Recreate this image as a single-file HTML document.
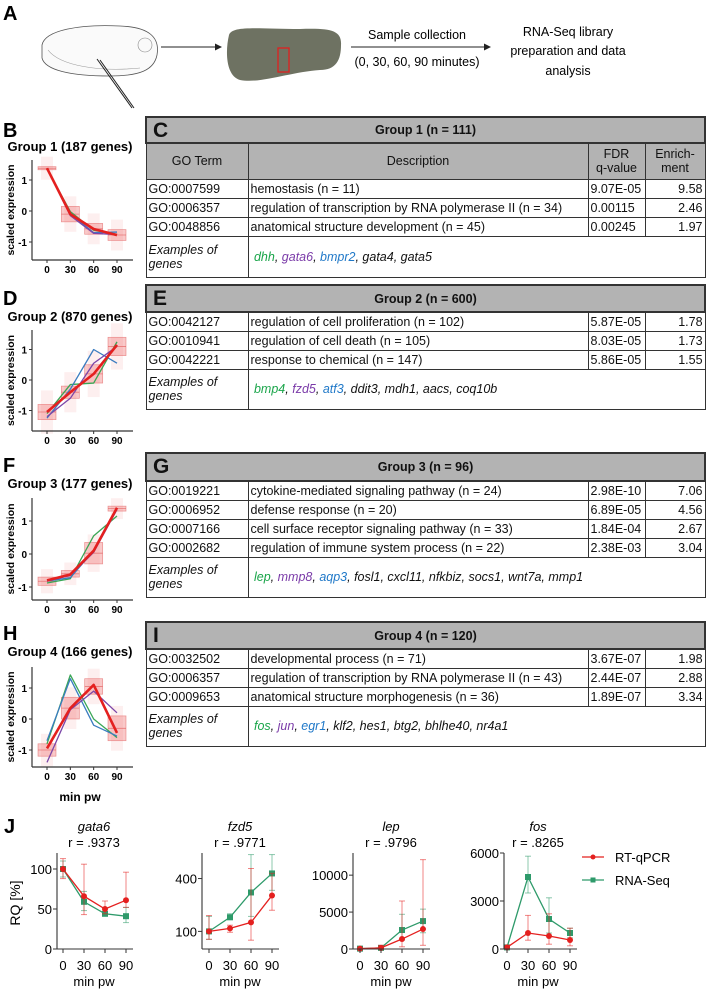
<!DOCTYPE html>
<html><head><meta charset="utf-8">
<style>
body{margin:0;background:#fff;font-family:"Liberation Sans",sans-serif;}
#root{position:relative;width:709px;height:990px;overflow:hidden;}
.tbl{position:absolute;left:145px;width:559px;border-collapse:collapse;font-size:12.5px;color:#111;table-layout:fixed;}
.tbl td{border:1px solid #333;padding:0 2px;line-height:14px;white-space:nowrap;overflow:hidden;}
.tbl tr.h td{background:#b3b3b3;font-weight:bold;text-align:center;position:relative;border:2px solid #333;}
.tbl tr.h td span.L{position:absolute;left:6px;top:1px;font-size:21px;line-height:24px;}
.tbl tr.ch td{background:#b3b3b3;text-align:center;}
.tbl td.r{text-align:right;}
.tbl .ex{font-style:italic;}
.g{color:#1aa54a}.p{color:#7a3aa8}.b{color:#1f78c8}
svg{position:absolute;left:0;top:0;}
</style></head><body>
<div id="root">
<svg id="fig" width="709" height="990" font-family="Liberation Sans, sans-serif">
 <g>
  <text x="3" y="20" font-size="20" font-weight="bold">A</text>
  <path d="M42 45 C45 30 80 24 120 26 C150 27 160 38 157 55 C154 70 140 76 110 76 C70 76 45 70 42 58 Z" fill="#fafafa" stroke="#555" stroke-width="0.8"/>
  <path d="M48 50 C60 66 100 72 140 68" fill="none" stroke="#999" stroke-width="0.6"/>
  <circle cx="145" cy="45" r="7" fill="none" stroke="#888" stroke-width="0.6"/>
  <line x1="97" y1="59" x2="132" y2="108" stroke="#222" stroke-width="1"/>
  <line x1="100" y1="60" x2="134" y2="108" stroke="#222" stroke-width="1"/>
  <line x1="161" y1="47" x2="220" y2="47" stroke="#222" stroke-width="1"/>
  <polygon points="222,47 215,43.5 215,50.5" fill="#222"/>
  <path d="M229 35 C232 25 260 29 300 29 C330 28 342 30 341 45 C341 60 336 70 320 70 C290 72 260 84 240 80 C226 76 225 52 229 35 Z" fill="#6e7262"/>
  <rect x="278" y="48" width="11" height="24" fill="none" stroke="#e02020" stroke-width="1.3"/>
  <line x1="351" y1="47" x2="488" y2="47" stroke="#222" stroke-width="1"/>
  <polygon points="491,47 484,43.5 484,50.5" fill="#222"/>
  <text x="417" y="39" font-size="12.5" text-anchor="middle">Sample collection</text>
  <text x="417" y="66" font-size="12.5" text-anchor="middle">(0, 30, 60, 90 minutes)</text>
  <text x="568" y="36" font-size="12.5" text-anchor="middle">RNA-Seq library</text>
  <text x="568" y="55" font-size="12.5" text-anchor="middle">preparation and data</text>
  <text x="568" y="75" font-size="12.5" text-anchor="middle">analysis</text>
 </g>
</svg>

<table class="tbl" style="top:116px">
<colgroup><col style="width:102px"><col style="width:340px"><col style="width:57px"><col style="width:60px"></colgroup>
<tr class="h" style="height:26px"><td colspan="4"><span class="L">C</span>Group 1 (n = 111)</td></tr>
<tr class="ch" style="height:36px"><td>GO Term</td><td>Description</td><td>FDR<br>q-value</td><td>Enrich-<br>ment</td></tr>
<tr style="height:19px"><td>GO:0007599</td><td>hemostasis (n = 11)</td><td>9.07E-05</td><td class="r">9.58</td></tr>
<tr style="height:19px"><td>GO:0006357</td><td>regulation of transcription by RNA polymerase II (n = 34)</td><td>0.00115</td><td class="r">2.46</td></tr>
<tr style="height:19px"><td>GO:0048856</td><td>anatomical structure development (n = 45)</td><td>0.00245</td><td class="r">1.97</td></tr>
<tr style="height:41px"><td class="ex">Examples of<br>genes</td><td colspan="3" class="ex">&nbsp;<span class="g">dhh</span>, <span class="p">gata6</span>, <span class="b">bmpr2</span>, gata4, gata5</td></tr>
</table>

<table class="tbl" style="top:284px">
<colgroup><col style="width:102px"><col style="width:340px"><col style="width:57px"><col style="width:60px"></colgroup>
<tr class="h" style="height:27px"><td colspan="4"><span class="L">E</span>Group 2 (n = 600)</td></tr>
<tr style="height:19px"><td>GO:0042127</td><td>regulation of cell proliferation (n = 102)</td><td>5.87E-05</td><td class="r">1.78</td></tr>
<tr style="height:19px"><td>GO:0010941</td><td>regulation of cell death (n = 105)</td><td>8.03E-05</td><td class="r">1.73</td></tr>
<tr style="height:19px"><td>GO:0042221</td><td>response to chemical (n = 147)</td><td>5.86E-05</td><td class="r">1.55</td></tr>
<tr style="height:40px"><td class="ex">Examples of<br>genes</td><td colspan="3" class="ex">&nbsp;<span class="g">bmp4</span>, <span class="p">fzd5</span>, <span class="b">atf3</span>, ddit3, mdh1, aacs, coq10b</td></tr>
</table>

<table class="tbl" style="top:452px">
<colgroup><col style="width:102px"><col style="width:340px"><col style="width:57px"><col style="width:60px"></colgroup>
<tr class="h" style="height:28px"><td colspan="4"><span class="L">G</span>Group 3 (n = 96)</td></tr>
<tr style="height:19px"><td>GO:0019221</td><td>cytokine-mediated signaling pathway (n = 24)</td><td>2.98E-10</td><td class="r">7.06</td></tr>
<tr style="height:19px"><td>GO:0006952</td><td>defense response (n = 20)</td><td>6.89E-05</td><td class="r">4.56</td></tr>
<tr style="height:19px"><td>GO:0007166</td><td>cell surface receptor signaling pathway (n = 33)</td><td>1.84E-04</td><td class="r">2.67</td></tr>
<tr style="height:19px"><td>GO:0002682</td><td>regulation of immune system process (n = 22)</td><td>2.38E-03</td><td class="r">3.04</td></tr>
<tr style="height:40px"><td class="ex">Examples of<br>genes</td><td colspan="3" class="ex">&nbsp;<span class="g">lep</span>, <span class="p">mmp8</span>, <span class="b">aqp3</span>, fosl1, cxcl11, nfkbiz, socs1, wnt7a, mmp1</td></tr>
</table>

<table class="tbl" style="top:621px">
<colgroup><col style="width:102px"><col style="width:340px"><col style="width:57px"><col style="width:60px"></colgroup>
<tr class="h" style="height:27px"><td colspan="4"><span class="L">I</span>Group 4 (n = 120)</td></tr>
<tr style="height:19px"><td>GO:0032502</td><td>developmental process (n = 71)</td><td>3.67E-07</td><td class="r">1.98</td></tr>
<tr style="height:19px"><td>GO:0006357</td><td>regulation of transcription by RNA polymerase II (n = 43)</td><td>2.44E-07</td><td class="r">2.88</td></tr>
<tr style="height:19px"><td>GO:0009653</td><td>anatomical structure morphogenesis (n = 36)</td><td>1.89E-07</td><td class="r">3.34</td></tr>
<tr style="height:40px"><td class="ex">Examples of<br>genes</td><td colspan="3" class="ex">&nbsp;<span class="g">fos</span>, <span class="p">jun</span>, <span class="b">egr1</span>, klf2, hes1, btg2, bhlhe40, nr4a1</td></tr>
</table>
</div>

<script>
// ---- group cluster plots (B, D, F, H) ----
const timepoints = [0, 30, 60, 90];
const g1Red = [1.38, -0.1, -0.58, -0.78];
const g1Green = [1.36, -0.02, -0.62, -0.75];
const g1Blue = [1.35, -0.08, -0.7, -0.68];
const g1Purple = [1.37, -0.15, -0.72, -0.76];
const g1BoxLo = [1.33, -0.35, -0.75, -0.95];
const g1BoxHi = [1.43, 0.15, -0.4, -0.6];
const g2Red = [-1.05, -0.4, 0.2, 1.15];
const g2Green = [-1.1, -0.15, -0.1, 1.25];
const g2Blue = [-1.25, -0.3, 1.0, 0.55];
const g2Purple = [-1.2, -0.6, 0.55, 1.1];
const g2BoxLo = [-1.3, -0.6, -0.1, 0.8];
const g2BoxHi = [-0.8, -0.2, 0.5, 1.4];
const g3Red = [-0.8, -0.62, 0.1, 1.4];
const g3Green = [-0.88, -0.75, 0.55, 1.15];
const g3Blue = [-0.82, -0.72, 0.1, 1.35];
const g3Purple = [-0.82, -0.65, 0.05, 1.35];
const g3BoxLo = [-0.95, -0.7, -0.3, 1.3];
const g3BoxHi = [-0.7, -0.5, 0.35, 1.45];
const g4Red = [-0.95, 0.35, 1.1, -0.45];
const g4Green = [-0.8, 1.42, 0.0, -0.6];
const g4Blue = [-0.7, 1.3, -0.2, -0.55];
const g4Purple = [-1.4, 0.3, 0.9, 0.2];
const g4BoxLo = [-1.2, 0.0, 0.8, -0.7];
const g4BoxHi = [-0.8, 0.7, 1.3, 0.1];
const yTicksGroup = [-1, 0, 1];
const xTickLabels = ['0', '30', '60', '90'];

// ---- panel J ----
const jTime = [0, 30, 60, 90];
const gata6Q = [100, 66, 50, 61], gata6QLo = [88, 43, 44, 52], gata6QHi = [113, 106, 60, 96];
const gata6S = [100, 59, 44, 41], gata6SLo = [90, 48, 42, 33], gata6SHi = [110, 72, 46, 52];
const fzd5Q = [100, 117, 151, 304], fzd5QLo = [55, 95, 50, 220], fzd5QHi = [190, 135, 457, 430];
const fzd5S = [100, 180, 321, 429], fzd5SLo = [55, 167, 185, 333], fzd5SHi = [185, 200, 536, 536];
const lepQ = [50, 150, 1350, 2700], lepQLo = [0, 0, 300, 500], lepQHi = [100, 500, 6500, 12100];
const lepS = [50, 150, 2570, 3780], lepSLo = [0, 0, 1200, 2200], lepSHi = [100, 300, 4700, 5400];
const fosQ = [100, 1000, 810, 560], fosQLo = [50, 550, 300, 200], fosQHi = [150, 2100, 2200, 1300];
const fosS = [100, 4500, 1875, 1000], fosSLo = [50, 3500, 1000, 700], fosSHi = [150, 5800, 3200, 1300];
const gata6Ticks = [0, 50, 100], fzd5Ticks = [100, 400], lepTicks = [0, 5000, 10000], fosTicks = [0, 3000, 6000];

const NS = 'http://www.w3.org/2000/svg';
const svg = document.getElementById('fig');
function el(tag, attrs, parent) {
  const e = document.createElementNS(NS, tag);
  for (const k in attrs) e.setAttribute(k, attrs[k]);
  (parent || svg).appendChild(e);
  return e;
}
function txt(s, attrs, parent) { const t = el('text', attrs, parent); t.textContent = s; return t; }

function groupPlot(cfg) {
  const g = el('g', {});
  
  
  const L = txt(cfg.letter, {x: 3, y: cfg.letterY, 'font-size': 20, 'font-weight': 'bold'}, g);
  
  
  const T = txt(cfg.title, {x: 70, y: cfg.titleY, 'font-size': 13, 'font-weight': 'bold', 'text-anchor': 'middle'}, g);
  
  
  const xs = t => 47 + (t / 90) * 70;
  const ys = v => cfg.y0 - v * cfg.unit;
  timepoints.forEach((t, i) => {
    const sc = el('rect', {x: xs(t) - 6, y: ys(cfg.boxHi[i]) - cfg.spread, width: 12, height: ys(cfg.boxLo[i]) - ys(cfg.boxHi[i]) + 2 * cfg.spread, fill: 'rgba(240,120,120,0.12)'}, g);
    
    
    const b = el('rect', {x: xs(t) - 9, y: ys(cfg.boxHi[i]), width: 18, height: Math.max(2, ys(cfg.boxLo[i]) - ys(cfg.boxHi[i])), fill: 'rgba(240,120,120,0.4)', stroke: 'rgba(225,90,90,0.6)', 'stroke-width': 0.7}, g);
    
    
    const m = (cfg.boxLo[i] + cfg.boxHi[i]) / 2;
    el('line', {x1: xs(t) - 9, x2: xs(t) + 9, y1: ys(m), y2: ys(m), stroke: 'rgba(225,90,90,0.7)', 'stroke-width': 0.8}, g);
  });
  const series = [[cfg.green, '#3aa655', 1.3], [cfg.blue, '#3a7cc0', 1.3], [cfg.purple, '#7b46a8', 1.3], [cfg.red, '#e4201f', 2.6]];
  series.forEach(([vals, col, w]) => {
    const pl = el('polyline', {points: timepoints.map((t, i) => xs(t) + ',' + ys(vals[i])).join(' '), fill: 'none', stroke: col, 'stroke-width': w, 'stroke-linejoin': 'round'}, g);
    
    
  });
  el('line', {x1: 32, x2: 32, y1: cfg.top, y2: cfg.bottom, stroke: '#333', 'stroke-width': 1.2}, g);
  el('line', {x1: 32, x2: 133, y1: cfg.bottom, y2: cfg.bottom, stroke: '#333', 'stroke-width': 1.2}, g);
  yTicksGroup.forEach(v => {
    el('line', {x1: 29, x2: 32, y1: ys(v), y2: ys(v), stroke: '#333'}, g);
    const tl = txt(String(v), {x: 27, y: ys(v) + 4, 'font-size': 10, 'font-weight': 'bold', 'text-anchor': 'end'}, g);
    
    
  });
  timepoints.forEach((t, i) => {
    el('line', {x1: xs(t), x2: xs(t), y1: cfg.bottom, y2: cfg.bottom + 3, stroke: '#333'}, g);
    const tl = txt(xTickLabels[i], {x: xs(t), y: cfg.bottom + 13, 'font-size': 10, 'font-weight': 'bold', 'text-anchor': 'middle'}, g);
    
    
  });
  const cy = (cfg.top + cfg.bottom) / 2;
  const yl = txt('scaled expression', {x: 14, y: cy, 'font-size': 10.5, 'font-weight': 'bold', 'text-anchor': 'middle', transform: 'rotate(-90 14 ' + cy + ')'}, g);
  
  
}
groupPlot({name: 'panel-b', letter: 'B', letterY: 137, title: 'Group 1 (187 genes)', titleY: 151, top: 160, bottom: 260, y0: 211, unit: 31, spread: 10, red: g1Red, green: g1Green, blue: g1Blue, purple: g1Purple, boxLo: g1BoxLo, boxHi: g1BoxHi});
groupPlot({name: 'panel-d', letter: 'D', letterY: 305, title: 'Group 2 (870 genes)', titleY: 321, top: 330, bottom: 431, y0: 380, unit: 30.5, spread: 14, red: g2Red, green: g2Green, blue: g2Blue, purple: g2Purple, boxLo: g2BoxLo, boxHi: g2BoxHi});
groupPlot({name: 'panel-f', letter: 'F', letterY: 472, title: 'Group 3 (177 genes)', titleY: 488, top: 498, bottom: 600, y0: 554, unit: 33, spread: 8, red: g3Red, green: g3Green, blue: g3Blue, purple: g3Purple, boxLo: g3BoxLo, boxHi: g3BoxHi});
groupPlot({name: 'panel-h', letter: 'H', letterY: 640, title: 'Group 4 (166 genes)', titleY: 656, top: 667, bottom: 767, y0: 719, unit: 31, spread: 10, red: g4Red, green: g4Green, blue: g4Blue, purple: g4Purple, boxLo: g4BoxLo, boxHi: g4BoxHi});
const mp = txt('min pw', {x: 80, y: 801, 'font-size': 12, 'font-weight': 'bold', 'text-anchor': 'middle'});



const jl = txt('J', {x: 4, y: 833, 'font-size': 20, 'font-weight': 'bold'});


function jPlot(cfg) {
  const g = el('g', {});
  
  
  const y0 = 949, top = 853;
  const ys = v => y0 - (v / cfg.max) * (y0 - top);
  const xs = t => cfg.x0 + (t / 90) * 63;
  const tt = txt(cfg.gene, {x: cfg.x0 + 31, y: 831, 'font-size': 13, 'font-style': 'italic', 'text-anchor': 'middle'}, g);
  
  
  const rr = txt(cfg.r, {x: cfg.x0 + 31, y: 847, 'font-size': 13, 'text-anchor': 'middle'}, g);
  
  
  const sets = [[cfg.s, cfg.sLo, cfg.sHi, '#2e9a6a', 'rna-seq'], [cfg.q, cfg.qLo, cfg.qHi, '#e4201f', 'rt-qpcr']];
  sets.forEach(([v, lo, hi, col, nm]) => {
    jTime.forEach((t, i) => {
      const eb = el('line', {x1: xs(t), x2: xs(t), y1: ys(hi[i]), y2: ys(lo[i]), stroke: col, 'stroke-opacity': 0.55, 'stroke-width': 1}, g);
      
      
      el('line', {x1: xs(t) - 3, x2: xs(t) + 3, y1: ys(hi[i]), y2: ys(hi[i]), stroke: col, 'stroke-opacity': 0.55}, g);
      el('line', {x1: xs(t) - 3, x2: xs(t) + 3, y1: ys(lo[i]), y2: ys(lo[i]), stroke: col, 'stroke-opacity': 0.55}, g);
    });
    const pl = el('polyline', {points: jTime.map((t, i) => xs(t) + ',' + ys(v[i])).join(' '), fill: 'none', stroke: col, 'stroke-width': 1.3}, g);
    
    
    jTime.forEach((t, i) => {
      if (nm === 'rna-seq') {
        const m = el('rect', {x: xs(t) - 3, y: ys(v[i]) - 3, width: 6, height: 6, fill: col}, g);
        
        
      } else {
        const m = el('circle', {cx: xs(t), cy: ys(v[i]), r: 3, fill: col}, g);
        
        
      }
    });
  });
  el('line', {x1: cfg.ax, x2: cfg.ax, y1: top, y2: y0, stroke: '#333', 'stroke-width': 1.1}, g);
  el('line', {x1: cfg.ax, x2: cfg.x0 + 70, y1: y0, y2: y0, stroke: '#333', 'stroke-width': 1.1}, g);
  cfg.ticks.forEach(v => {
    el('line', {x1: cfg.ax - 4, x2: cfg.ax, y1: ys(v), y2: ys(v), stroke: '#333'}, g);
    const tl = txt(String(v), {x: cfg.ax - 5, y: ys(v) + 5, 'font-size': 13, 'text-anchor': 'end'}, g);
    
    
  });
  jTime.forEach((t, i) => {
    el('line', {x1: xs(t), x2: xs(t), y1: y0, y2: y0 + 4, stroke: '#333'}, g);
    const tl = txt(xTickLabels[i], {x: xs(t), y: 970, 'font-size': 13, 'text-anchor': 'middle'}, g);
    
    
  });
  const xt = txt('min pw', {x: cfg.x0 + 31, y: 986, 'font-size': 13, 'text-anchor': 'middle'}, g);
  
  
}
jPlot({name: 'plot-gata6', gene: 'gata6', r: 'r = .9373', x0: 63, ax: 57, max: 120, ticks: gata6Ticks, q: gata6Q, qLo: gata6QLo, qHi: gata6QHi, s: gata6S, sLo: gata6SLo, sHi: gata6SHi});
jPlot({name: 'plot-fzd5', gene: 'fzd5', r: 'r = .9771', x0: 209, ax: 202, max: 545, ticks: fzd5Ticks, q: fzd5Q, qLo: fzd5QLo, qHi: fzd5QHi, s: fzd5S, sLo: fzd5SLo, sHi: fzd5SHi});
jPlot({name: 'plot-lep', gene: 'lep', r: 'r = .9796', x0: 360, ax: 353, max: 13000, ticks: lepTicks, q: lepQ, qLo: lepQLo, qHi: lepQHi, s: lepS, sLo: lepSLo, sHi: lepSHi});
jPlot({name: 'plot-fos', gene: 'fos', r: 'r = .8265', x0: 507, ax: 504, max: 6000, ticks: fosTicks, q: fosQ, qLo: fosQLo, qHi: fosQHi, s: fosS, sLo: fosSLo, sHi: fosSHi});
const rq = txt('RQ [%]', {x: 20, y: 903, 'font-size': 14, 'text-anchor': 'middle', transform: 'rotate(-90 20 903)'});


const lg = el('g', {});


[['RT-qPCR', '#e4201f', 857, 'c'], ['RNA-Seq', '#2e9a6a', 880, 's']].forEach(([lab, col, y, m]) => {
  el('line', {x1: 582, x2: 604, y1: y, y2: y, stroke: col, 'stroke-width': 1.3}, lg);
  if (m === 'c') el('circle', {cx: 593, cy: y, r: 2.5, fill: col}, lg);
  else el('rect', {x: 590.5, y: y - 2.5, width: 5, height: 5, fill: col}, lg);
  const t = txt(lab, {x: 615, y: y + 5, 'font-size': 13}, lg);
  
  
});
</script>
</body></html>
